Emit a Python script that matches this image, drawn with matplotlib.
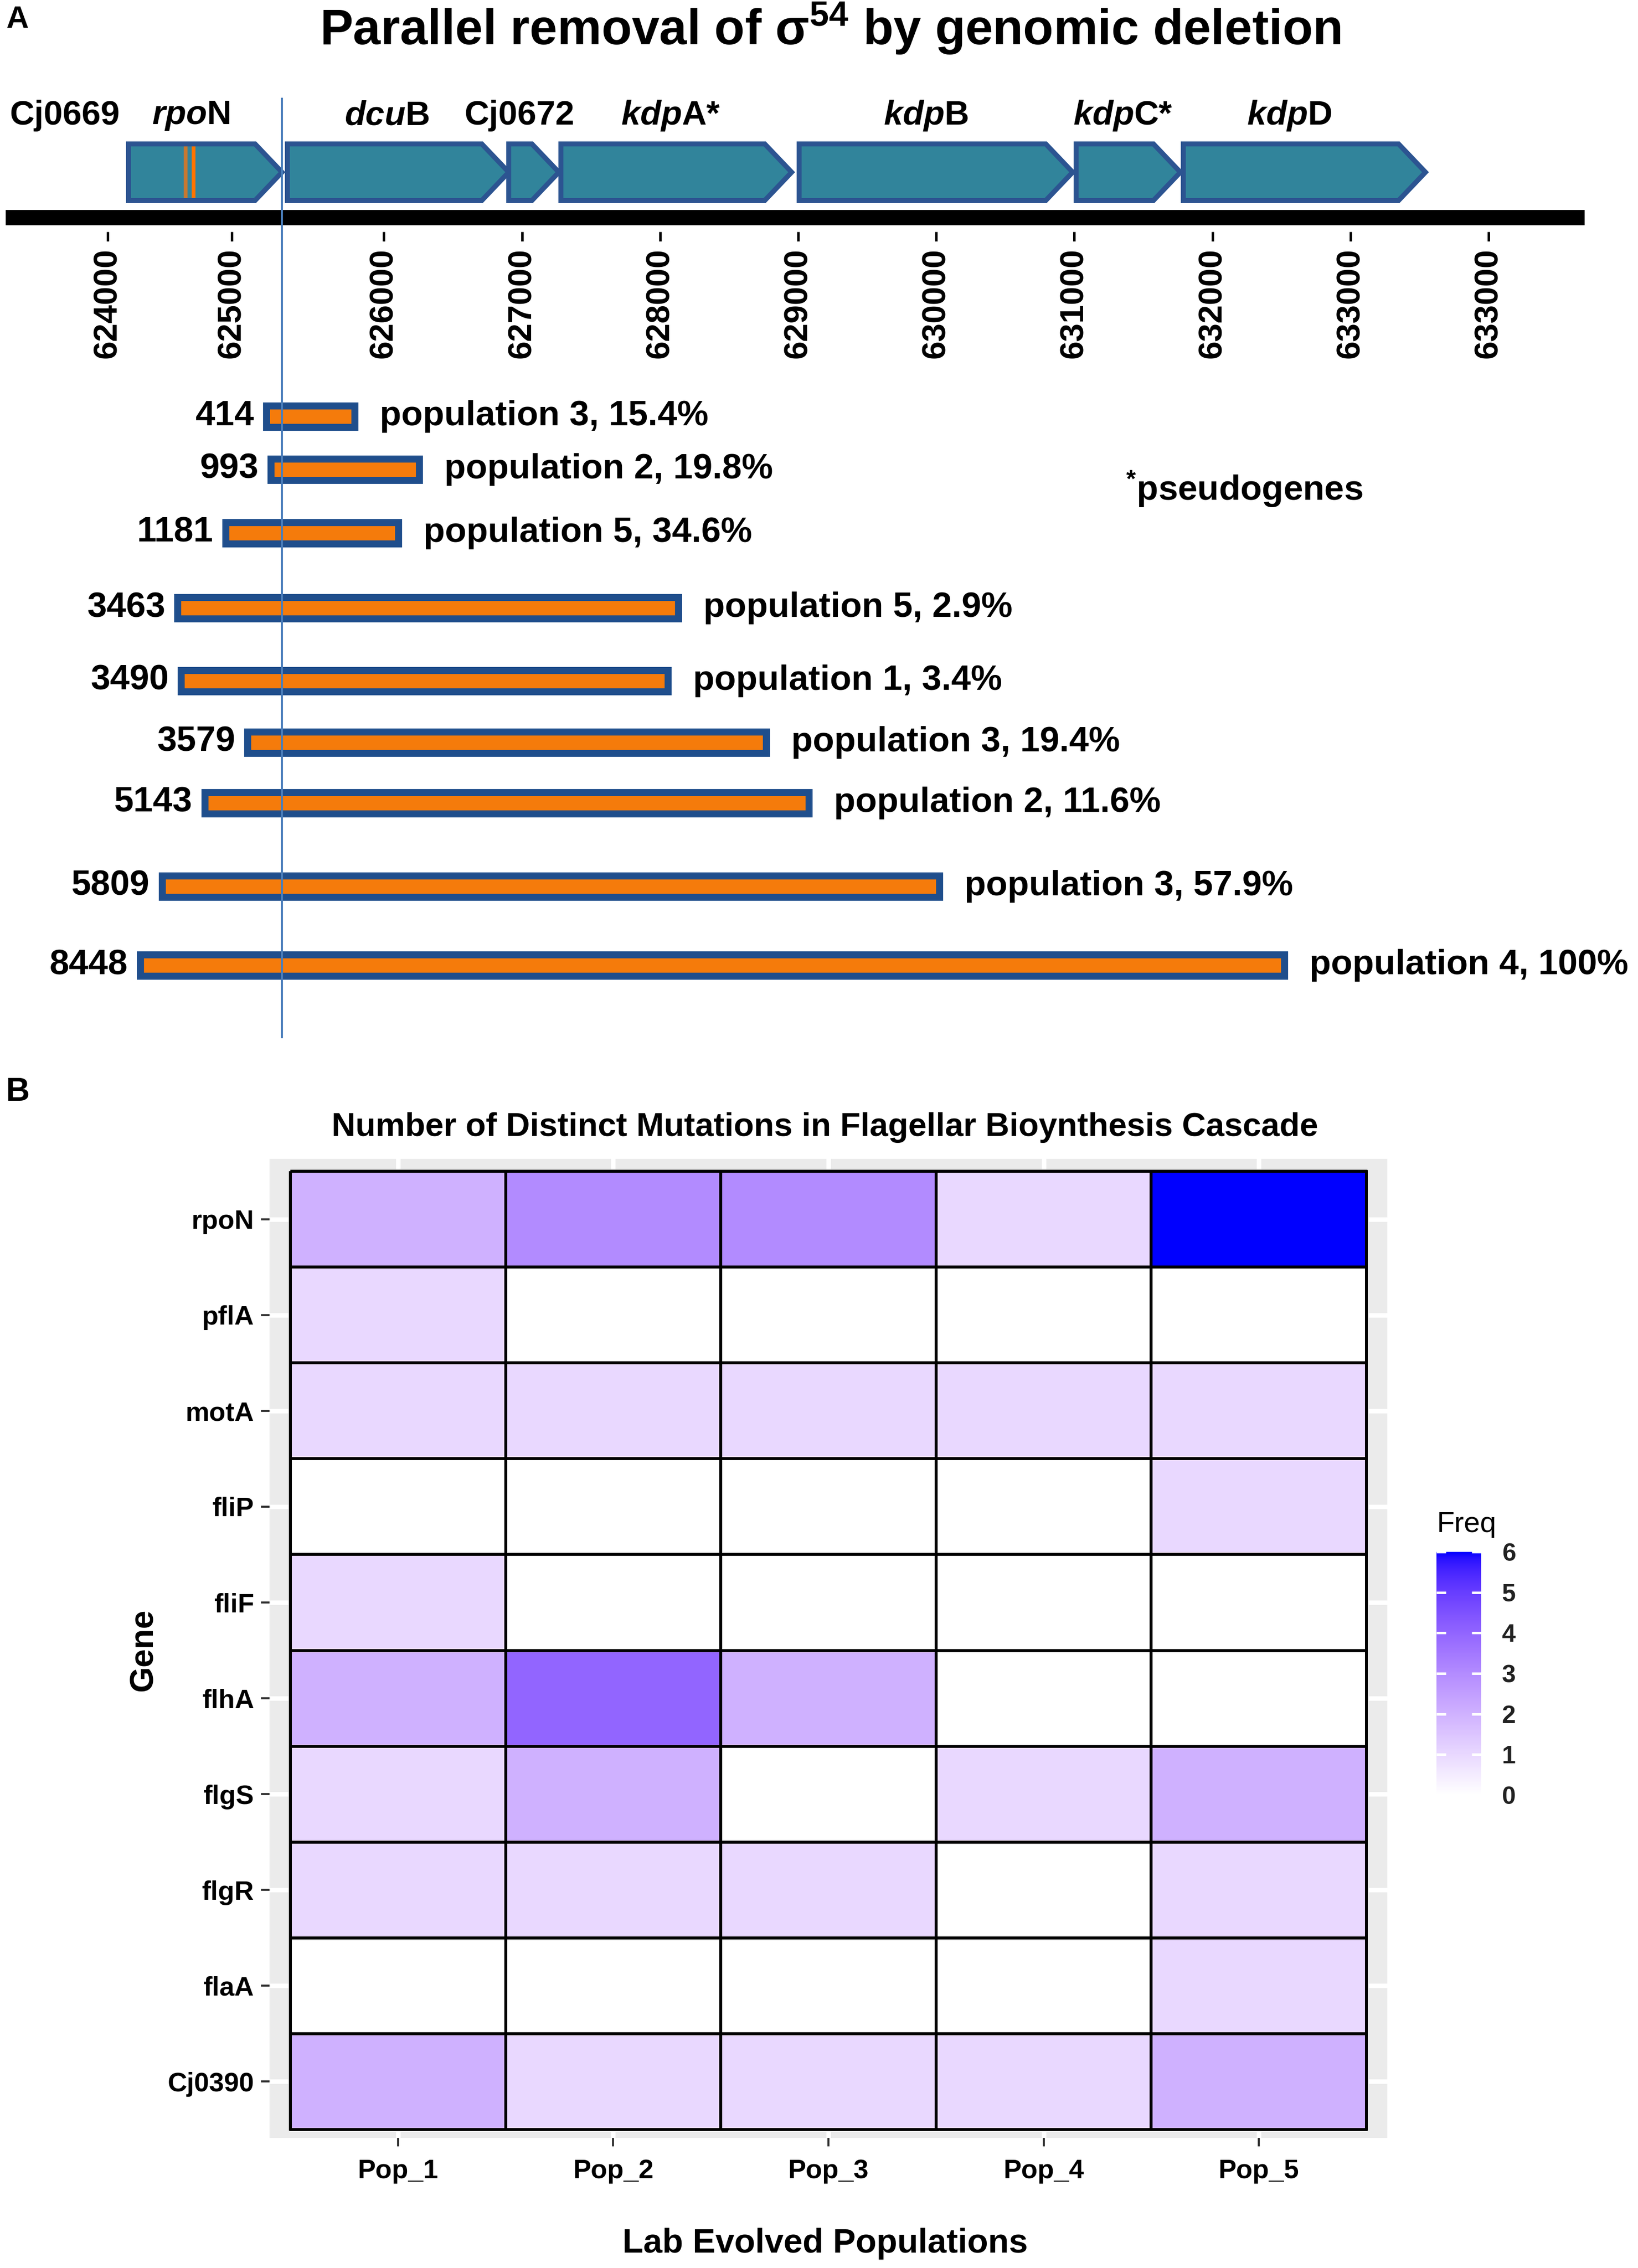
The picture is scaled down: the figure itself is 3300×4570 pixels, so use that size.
import numpy as np
import matplotlib
matplotlib.use("Agg")
import matplotlib.pyplot as plt
from matplotlib.patches import Polygon
from matplotlib.colors import ListedColormap

plt.rcParams['font.family'] = ['Liberation Sans', 'DejaVu Sans']
plt.rcParams['font.weight'] = 'bold'
plt.rcParams['mathtext.fontset'] = 'custom'
plt.rcParams['mathtext.rm'] = 'Liberation Sans:bold'
plt.rcParams['mathtext.it'] = 'Liberation Sans:italic:bold'
plt.rcParams['mathtext.bf'] = 'Liberation Sans:bold'

W, H = 3300, 4570

# ---- panel A: gene neighbourhood of rpoN (genome position, bp)
gene_start = [624151, 625301, 626904, 627282, 629007, 631013, 631789]
gene_end = [625262, 626904, 627267, 628953, 630988, 631768, 633543]
gene_labels = ['Cj0669', r'$\mathit{rpo}$N', r'$\mathit{dcu}$B', 'Cj0672',
               r'$\mathit{kdp}$A*', r'$\mathit{kdp}$B', r'$\mathit{kdp}$C*', r'$\mathit{kdp}$D']
gene_label_x = [623687, 624604, 626020, 626980, 628076, 629924, 631351, 632555]
rpon_marks = [624565, 624622]
rpon_end = 625262
tick_pos = [624000, 624900, 626000, 627000, 628000, 629000, 630000, 631000, 632000, 633000, 634000]
tick_labels = ['624000', '625000', '626000', '627000', '628000', '629000',
               '630000', '631000', '632000', '633000', '633000']

# deletions
del_size = [414, 993, 1181, 3463, 3490, 3579, 5143, 5809, 8448]
del_pop = [3, 2, 5, 5, 1, 3, 2, 3, 4]
del_freq = ['15.4%', '19.8%', '34.6%', '2.9%', '3.4%', '19.4%', '11.6%', '57.9%', '100%']
del_start = [625150, 625182, 624855, 624507, 624532, 625014, 624705, 624395, 624237]
del_end = [625790, 626258, 626107, 628134, 628058, 628770, 629079, 630025, 632523]
del_row = [839, 946, 1074, 1225, 1372, 1496, 1618, 1786, 1945]

# ---- panel B: heatmap
genes = ['rpoN', 'pflA', 'motA', 'fliP', 'fliF', 'flhA', 'flgS', 'flgR', 'flaA', 'Cj0390']
pops = ['Pop_1', 'Pop_2', 'Pop_3', 'Pop_4', 'Pop_5']
freq = [
    [2, 3, 3, 1, 6],
    [1, 0, 0, 0, 0],
    [1, 1, 1, 1, 1],
    [0, 0, 0, 0, 1],
    [1, 0, 0, 0, 0],
    [2, 4, 2, 0, 0],
    [1, 2, 0, 1, 2],
    [1, 1, 1, 0, 1],
    [0, 0, 0, 0, 1],
    [2, 1, 1, 1, 2],
]


def lab_to_rgb(lab):
    # CIE Lab (D65) -> sRGB, like ggplot's gradient interpolation
    L, a, b = lab[:, 0], lab[:, 1], lab[:, 2]
    fy = (L + 16) / 116
    fx = fy + a / 500
    fz = fy - b / 200
    d = 6 / 29

    def finv(t):
        return np.where(t > d, t ** 3, 3 * d ** 2 * (t - 4 / 29))

    X, Y, Z = 0.95047 * finv(fx), finv(fy), 1.08883 * finv(fz)
    r = 3.2406 * X - 1.5372 * Y - 0.4986 * Z
    g = -0.9689 * X + 1.8758 * Y + 0.0415 * Z
    bb = 0.0557 * X - 0.2040 * Y + 1.0570 * Z
    rgb = np.clip(np.stack([r, g, bb], -1), 0, 1)
    rgb = np.where(rgb <= 0.0031308, 12.92 * rgb, 1.055 * rgb ** (1 / 2.4) - 0.055)
    return np.clip(rgb, 0, 1)


lab_white = np.array([100.0, 0.0, 0.0])
lab_blue = np.array([32.30, 79.19, -107.86])
t = np.linspace(0, 1, 256)[:, None]
cmap = ListedColormap(lab_to_rgb(lab_white + t * (lab_blue - lab_white)))


def fx(px):
    return px / W


def fy(py):
    return 1 - py / H


fig = plt.figure(figsize=(W / 300, H / 300), dpi=300)

# panel A drawn in genome coords (x) and pixel rows (y)
ax = fig.add_axes([0, 0, 1, 1])
ax.set_xlim(623220, 635082)
ax.set_ylim(H, 0)
ax.axis('off')

teal = '#31849B'
navy = '#2C5491'
orange = '#F57B0B'

top, bot = 290, 404
mid = (top + bot) / 2
for s, e in zip(gene_start, gene_end):
    head = min(195, 0.6 * (e - s))
    pts = [(s, top), (e - head, top), (e, mid), (e - head, bot), (s, bot)]
    ax.add_patch(Polygon(pts, closed=True, facecolor=teal, edgecolor=navy,
                         linewidth=2.4, joinstyle='miter'))
ax.vlines(rpon_marks[0], top + 5, bot - 5, color='#C8782F', lw=1.8)
ax.vlines(rpon_marks[1], top + 5, bot - 5, color='#FF7400', lw=1.8)

for lab, x in zip(gene_labels, gene_label_x):
    ax.text(x, 233, lab, ha='center', va='center', fontsize=16.5)

# genome line and coordinate axis
ax.plot([623260, 634694], [438, 438], color='black', lw=7.4, solid_capstyle='butt')
ax.vlines(tick_pos, 467, 486, color='black', lw=1.2)
for p, lab in zip(tick_pos, tick_labels):
    ax.text(p, 500, lab, rotation=90, ha='center', va='top', fontsize=16)

# deletions
ax.barh(del_row, np.array(del_end) - np.array(del_start), left=del_start, height=43,
        color=orange, edgecolor='#1F4E8C', linewidth=3.4, zorder=3)
for s, e, r, n, p, f in zip(del_start, del_end, del_row, del_size, del_pop, del_freq):
    ax.annotate(str(n), (s, r), xytext=(-6, 0), textcoords='offset points',
                ha='right', va='center', fontsize=17)
    ax.annotate(f'population {p}, {f}', (e, r), xytext=(12, 0), textcoords='offset points',
                ha='left', va='center', fontsize=17)

ax.plot([rpon_end, rpon_end], [199, 2090], color='#4A7EBB', lw=1.0, zorder=4)

ax.text(631372, 986, r'$^{*}$pseudogenes', ha='left', va='center', fontsize=17)

fig.text(fx(12), fy(40), 'A', ha='left', va='center', fontsize=15)
fig.text(fx(1673), fy(57), r'Parallel removal of σ$^{54}$ by genomic deletion',
         ha='center', va='center', fontsize=24)

# panel B heatmap
fig.text(fx(12), fy(2201), 'B', ha='left', va='center', fontsize=16)
axb = fig.add_axes([fx(543), fy(4308), fx(2795 - 543), (4308 - 2335) / H])
axb.set_facecolor('#EBEBEB')
for sp in axb.spines.values():
    sp.set_visible(False)
axb.set_xticks(range(len(pops)), pops)
axb.set_yticks(range(len(genes)), genes)
axb.grid(True, color='white', lw=2.2)
axb.set_axisbelow(True)
mesh = axb.pcolormesh(np.arange(len(pops) + 1) - 0.5, np.arange(len(genes) + 1) - 0.5,
                      np.array(freq), cmap=cmap, vmin=0, vmax=6,
                      edgecolors='black', linewidth=1.4)
axb.set_xlim(-0.597, 4.597)
axb.set_ylim(9.588, -0.63)
axb.tick_params(length=4, width=1.0, color='#333333', labelsize=13, pad=3.5)
axb.tick_params(axis='x', pad=6)

fig.text(fx(1662), fy(2272), 'Number of Distinct Mutations in Flagellar Bioynthesis Cascade',
         ha='center', va='center', fontsize=16)
fig.text(fx(1662), fy(4521), 'Lab Evolved Populations', ha='center', va='center', fontsize=16.5)
fig.text(fx(290), fy(3325), 'Gene', rotation=90, ha='center', va='center', fontsize=16)

cax = fig.add_axes([fx(2894), fy(3617), fx(90), 490 / H])
cb = fig.colorbar(mesh, cax=cax, ticks=range(7))
cb.outline.set_visible(False)
cax.tick_params(direction='in', length=4.5, width=1.2, color='white',
                left=True, right=True, labelsize=12, pad=10, labelcolor='#222222')
fig.text(fx(2894), fy(3072), 'Freq', ha='left', va='center', fontsize=14, fontweight='normal')

fig.savefig('out.png', dpi=300)
